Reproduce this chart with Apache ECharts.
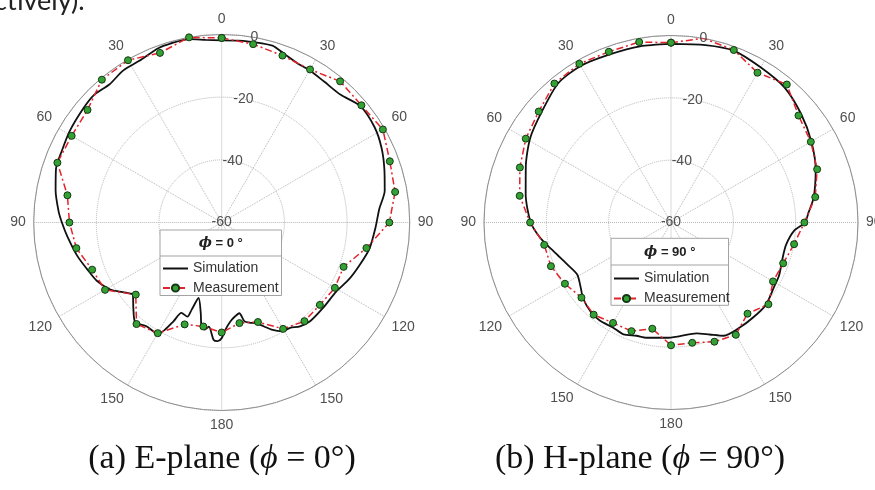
<!DOCTYPE html>
<html><head><meta charset="utf-8">
<script src="https://cdn.jsdelivr.net/npm/echarts@6/dist/echarts.min.js"></script>
<style>html,body{margin:0;padding:0;background:#fff}#c{width:875px;height:490px}</style>
</head><body><div id="c"></div>
<script>
// ---- data ----
const angleTickStep = 30;
const radiusTicks = [-60, -40, -20, 0];
const measAngles = [0,10,20,30,40,50,60,70,80,90,100,110,120,130,140,150,160,170,180,190,200,210,220,230,240,250,260,270,280,290,300,310,320,330,340,350];
const measE = [-1.1,-2.2,-3.3,-3.6,-1.2,-1.8,-0.6,-2.9,-3.8,-6.5,-13.1,-18.6,-18.3,-19.1,-18.9,-20.8,-26.2,-27.4,-24.9,-26.3,-25.4,-19.2,-17.7,-24.2,-17.0,-16.0,-12.9,-11.4,-10.0,-4.2,-4.7,-4.1,-0.5,-0.2,-2.4,0.0];
const measH = [-2.3,0.0,-1.1,-4.5,-2.2,-6.6,-8.2,-10.1,-13.0,-17.2,-19.9,-21.7,-22.2,-19.2,-21.8,-18.4,-19.3,-20.8,-20.6,-25.4,-22.9,-22.8,-21.4,-22.5,-20.7,-19.0,-18.7,-14.8,-10.7,-8.4,-6.2,-4.6,-1.8,-1.2,-1.7,-1.2];
const simEAngles = [0,8,16,20,26,30,36,43,50,58,65,72,79,85,92,100,107,114,121,130,138,143,147,151,155,158,161,164,167,169,172,175,178,180,182,184,187,189,191,193,197,199,200,204,206,208,210,216,221,226,231,232,236,239,245,251,257,265,270,274,281,288,294,301,309,315,321,327,333,340,344,350,355,360];
const simEValues = [-1.9,-1.6,-1.3,-2.5,-3.8,-3.9,-4.4,-4.3,-2.2,-2.5,-3.7,-5.4,-7.0,-9.5,-10.9,-12.1,-13.9,-15.5,-17.3,-17.7,-17.7,-18.5,-19.9,-20.3,-22.3,-24.3,-26.0,-26.7,-27.6,-30.5,-29.7,-28.3,-25.8,-23.1,-22.1,-22.5,-26.5,-25.4,-26.2,-30.3,-34.8,-30.6,-28.0,-28.4,-24.9,-21.1,-19.1,-19.1,-17.9,-20.8,-23.5,-23.1,-20.6,-18.5,-16.0,-14.5,-12.7,-10.5,-9.0,-7.8,-6.0,-4.4,-4.1,-3.4,-2.8,-2.4,-3.2,-2.2,-2.1,-0.8,-0.6,-0.6,-1.5,-1.9];
const simHAngles = [0,11,20,30,40,50,60,70,80,86,90,94,101,108,116,122,131,139,147,155,161,167,176,182,192,197,203,209,216,222,229,235,241,248,256,263,270,281,291,301,311,321,330,340,350,360];
const simHValues = [-2.7,-2.0,-1.3,-2.5,-3.4,-5.6,-8.0,-10.6,-13.5,-15.8,-17.0,-20.5,-22.4,-22.4,-21.4,-21.0,-19.7,-19.7,-19.7,-19.9,-22.0,-23.5,-23.4,-23.0,-22.2,-22.0,-21.0,-21.5,-21.1,-21.5,-22.7,-24.5,-25.6,-24.1,-21.3,-17.9,-15.0,-12.5,-10.1,-7.3,-5.3,-2.5,-2.0,-2.6,-2.6,-2.7];
const seriesNames = ['Simulation', 'Measurement'];
const legendTitles = ['0', '90'];
const captions = [['(a) E-plane (', ' = 0°)'], ['(b) H-plane (', ' = 90°)']];

// ---- helpers ----
const toPairs = (angles, vals) => angles.map((a, i) => [vals[i], a]);
const closeLoop = (angles, vals) => toPairs(angles, vals).concat([[vals[0], 360]]);

const plots = [
  {cx: 221.7, cy: 222.5, r: 188, capX: 222, sim: toPairs(simEAngles, simEValues), meas: closeLoop(measAngles, measE)},
  {cx: 671, cy: 222.5, r: 187, capX: 640, sim: toPairs(simHAngles, simHValues), meas: closeLoop(measAngles, measH)}
];

const labelColor = '#4f4f4f';
const polar = [], angleAxis = [], radiusAxis = [], series = [];
plots.forEach((p, k) => {
  const main = k * 2, lab = k * 2 + 1;
  polar.push({center: [p.cx, p.cy], radius: p.r});
  polar.push({center: [p.cx, p.cy], radius: p.r});
  angleAxis.push({
    polarIndex: main, type: 'value', min: 0, max: 360, interval: angleTickStep,
    startAngle: 90, clockwise: true,
    axisLine: {show: true, lineStyle: {color: '#8f8f8f', width: 1}},
    axisTick: {show: false},
    axisLabel: {show: true, margin: 8, color: labelColor, fontSize: 14, fontFamily: 'Liberation Sans',
      formatter: v => (v >= 360 ? '' : String(v <= 180 ? v : 360 - v))},
    splitLine: {show: true, lineStyle: {color: '#b5b5b5', type: 'dotted', width: 1}}
  });
  angleAxis.push({polarIndex: lab, type: 'value', min: 0, max: 360, startAngle: 80, show: false});
  radiusAxis.push({
    polarIndex: main, type: 'value', min: radiusTicks[0], max: radiusTicks[radiusTicks.length - 1], interval: 20,
    axisLine: {show: false}, axisTick: {show: false}, axisLabel: {show: false},
    splitLine: {show: true, lineStyle: {color: '#b5b5b5', type: 'dotted', width: 1}}
  });
  radiusAxis.push({
    polarIndex: lab, type: 'value', min: radiusTicks[0], max: radiusTicks[radiusTicks.length - 1], interval: 20,
    axisLine: {show: false}, axisTick: {show: false}, splitLine: {show: false},
    axisLabel: {show: true, margin: 0, align: 'center', verticalAlign: 'middle', color: labelColor,
      fontSize: 14, fontFamily: 'Liberation Sans', showMinLabel: true, showMaxLabel: true},
    z: 5
  });
  series.push({
    type: 'line', name: seriesNames[0], coordinateSystem: 'polar', polarIndex: main,
    data: p.sim, symbol: 'none', smooth: 0.25,
    lineStyle: {color: '#111', width: 1.8}, itemStyle: {color: '#111'}, z: 3, animation: false
  });
  series.push({
    type: 'line', name: seriesNames[1], coordinateSystem: 'polar', polarIndex: main,
    data: p.meas, symbol: 'circle', symbolSize: 7, showSymbol: true,
    lineStyle: {color: '#e3232b', width: 1.5, type: [7, 3, 2, 3]},
    itemStyle: {color: '#34a134', borderColor: '#143814', borderWidth: 1}, z: 4, animation: false
  });
});

const boxes = [
  {x: 160, y: 230, w: 121.5, h: 65.5, sep: 256, ty: 243.5, lx: 162, ly: 261.5, gap: 5.5},
  {x: 611, y: 238.3, w: 117.5, h: 67, sep: 265, ty: 252.5, lx: 613, ly: 271.5, gap: 6}
];
const legend = boxes.map(b => ({
  data: [{name: seriesNames[0], itemStyle: {color: 'rgba(0,0,0,0)', borderColor: 'rgba(0,0,0,0)', borderWidth: 0}},
         {name: seriesNames[1]}],
  orient: 'vertical', left: b.lx, top: b.ly, itemWidth: 25, itemHeight: 9,
  itemGap: b.gap, padding: 0, selectedMode: false, z: 200,
  textStyle: {fontSize: 14, color: '#333', fontFamily: 'Liberation Sans', lineHeight: 14}
}));
const graphic = [];
boxes.forEach((b, k) => {
  graphic.push({type: 'rect', z: 100, shape: {x: b.x, y: b.y, width: b.w, height: b.h},
    style: {fill: '#fff', stroke: '#a3a3a3', lineWidth: 1}});
  graphic.push({type: 'line', z: 101, shape: {x1: b.x, y1: b.sep, x2: b.x + b.w, y2: b.sep},
    style: {stroke: '#a3a3a3', lineWidth: 1}});
  graphic.push({type: 'text', z: 102, style: {
    text: '{i|ϕ}{b| = ' + legendTitles[k] + ' °}', x: b.x + b.w / 2, y: b.ty,
    align: 'center', verticalAlign: 'middle',
    rich: {i: {font: 'italic bold 14px "DejaVu Serif"', fill: '#222'},
           b: {font: 'bold 13px "Liberation Sans"', fill: '#222'}}}});
});
plots.forEach((p, k) => {
  graphic.push({type: 'text', z: 102, style: {
    text: '{a|' + captions[k][0] + '}{i|ϕ}{a|' + captions[k][1] + '}',
    x: p.capX, y: 459, align: 'center', verticalAlign: 'middle',
    rich: {a: {font: '34px "Liberation Serif"', fill: '#111'},
           i: {font: 'italic 34px "Liberation Serif"', fill: '#111'}}}});
});
graphic.push({type: 'text', z: 102, style: {text: 'ctively).', x: -6, y: 15, align: 'left',
  verticalAlign: 'bottom', font: '27px Lato', fill: '#222'}});

const chart = echarts.init(document.getElementById('c'), null, {renderer: 'canvas'});
chart.setOption({
  animation: false, backgroundColor: '#fff',
  polar, angleAxis, radiusAxis, series, legend, graphic
});
</script></body></html>
